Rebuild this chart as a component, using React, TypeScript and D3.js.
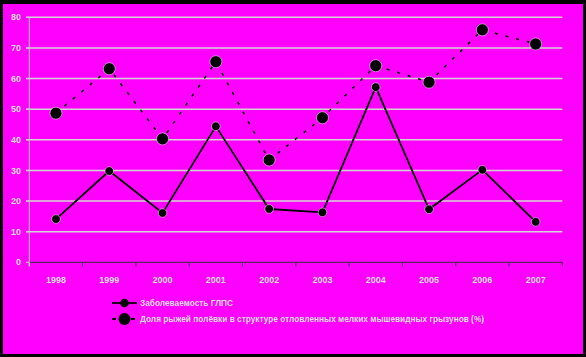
import React from "react";
import * as d3 from "d3";

const years = ["1998", "1999", "2000", "2001", "2002", "2003", "2004", "2005", "2006", "2007"];
const incidence = [14.1, 29.8, 16.1, 44.4, 17.4, 16.3, 57.2, 17.3, 30.2, 13.2];
const voleShare = [48.7, 63.2, 40.3, 65.5, 33.4, 47.2, 64.2, 58.8, 75.9, 71.3];
const yTicks = [0, 10, 20, 30, 40, 50, 60, 70, 80];
const seriesNames = [
  "Заболеваемость ГЛПС",
  "Доля рыжей полёвки в структуре отловленных мелких мышевидных грызунов (%)",
];

const W = 586;
const H = 357;

export default function App() {
  const x = d3.scaleBand<string>().domain(years).range([29.3, 562.3]);
  const y = d3.scaleLinear().domain([0, 80]).range([262.3, 17.3]);
  const cx = (d: string) => (x(d) as number) + x.bandwidth() / 2;
  const line = d3
    .line<number>()
    .x((_, i) => cx(years[i]))
    .y((v) => y(v));
  const font = "'Liberation Sans', Arial, sans-serif";
  const textFill = "#dcdcdc";
  const boundaries = years.map((d) => x(d) as number).concat([x.range()[1]]);

  return (
    <svg
      width={W}
      height={H}
      style={{ position: "absolute", left: 0, top: 0, display: "block" }}
      fontFamily={font}
    >
      <rect x={0} y={0} width={W} height={H} fill="#000" />
      <rect x={3} y={4} width={580} height={350} fill="#ff00ff" />
      {/* gridlines */}
      {yTicks.slice(1).map((t) => (
        <line key={t} x1={26} x2={562.3} y1={y(t)} y2={y(t)} stroke="#d4d4d4" strokeWidth={1.5} />
      ))}
      {/* y axis */}
      <line x1={29.3} x2={29.3} y1={y(80)} y2={y(0) + 4} stroke="#c8c8c8" strokeWidth={1} />
      {yTicks.map((t) => (
        <g key={t}>
          <line x1={26} x2={29.3} y1={y(t)} y2={y(t)} stroke="#c8c8c8" strokeWidth={1} />
          <text x={21} y={y(t)} dy="0.35em" textAnchor="end" fontSize={9} fontWeight="bold" fill={textFill}>
            {t}
          </text>
        </g>
      ))}
      {/* x axis */}
      <line x1={29.3} x2={562.3} y1={y(0)} y2={y(0)} stroke="#333" strokeWidth={1} />
      {boundaries.map((b, i) => (
        <line key={i} x1={b} x2={b} y1={y(0)} y2={y(0) + 4} stroke={i === 0 ? "#ddd" : "#333"} strokeWidth={1} />
      ))}
      {years.map((d) => (
        <text key={d} x={cx(d)} y={280} dy="0.35em" textAnchor="middle" fontSize={9} fontWeight="bold" fill={textFill}>
          {d}
        </text>
      ))}
      {/* dashed series */}
      <path d={line(voleShare) || ""} fill="none" stroke="#000" strokeWidth={1.6} strokeDasharray="3,8" />
      {voleShare.map((v, i) => (
        <circle key={i} cx={cx(years[i])} cy={y(v)} r={6} fill="#000" stroke="#fff" strokeWidth={0.5} />
      ))}
      {/* solid series */}
      <path d={line(incidence) || ""} fill="none" stroke="#000" strokeWidth={1.8} />
      {incidence.map((v, i) => (
        <circle key={i} cx={cx(years[i])} cy={y(v)} r={4.3} fill="#000" stroke="#fff" strokeWidth={0.5} />
      ))}
      {/* legend */}
      <g>
        <line x1={112} x2={137} y1={303} y2={303} stroke="#000" strokeWidth={1.8} />
        <circle cx={124.5} cy={303} r={4.3} fill="#000" />
        <text x={140} y={303} dy="0.35em" fontSize={8.3} fontWeight="bold" fill={textFill}>
          {seriesNames[0]}
        </text>
        <line x1={112} x2={137} y1={319} y2={319} stroke="#000" strokeWidth={1.8} strokeDasharray="4,15,4" />
        <circle cx={124.5} cy={319} r={6} fill="#000" />
        <text x={140} y={319} dy="0.35em" fontSize={8.3} fontWeight="bold" fill={textFill}>
          {seriesNames[1]}
        </text>
      </g>
    </svg>
  );
}
